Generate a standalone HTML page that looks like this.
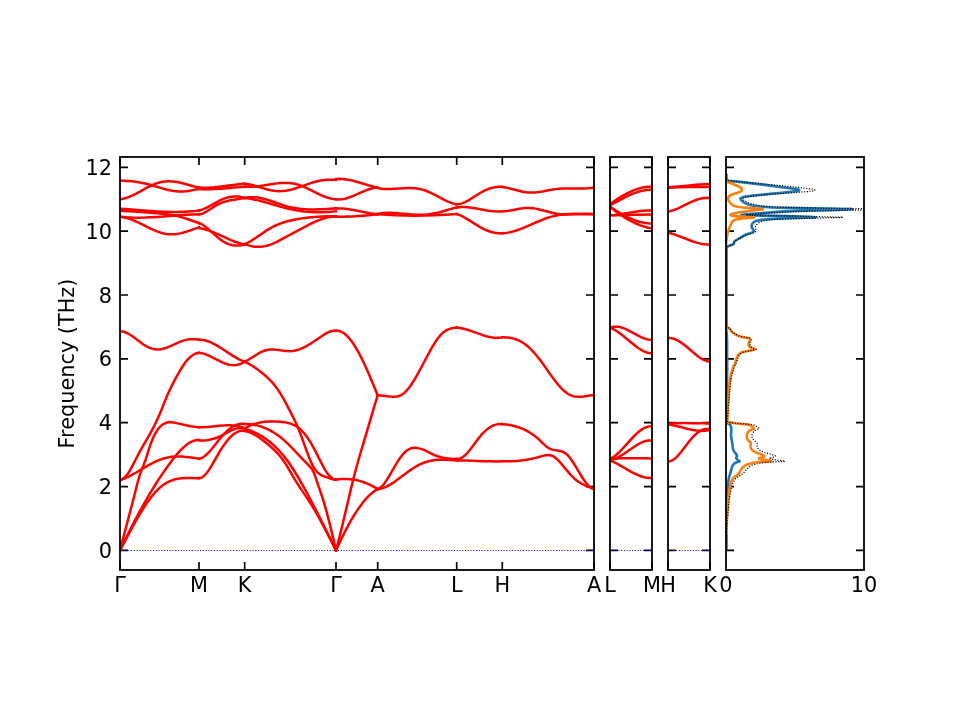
<!DOCTYPE html>
<html lang="en"><head><meta charset="utf-8"><title>Phonon band structure and DOS</title>
<style>html,body{margin:0;padding:0;background:#fff;}body{width:960px;height:720px;overflow:hidden;}svg{display:block;}text{font-family:"DejaVu Sans","Liberation Sans",sans-serif;font-size:20.83px;fill:#000;}</style>
</head><body>
<svg width="960" height="720" viewBox="0 0 960 720">
<rect x="0" y="0" width="960" height="720" fill="#ffffff"/>
<clipPath id="c0"><rect x="120.00" y="157.00" width="474.00" height="413.00"/></clipPath>
<clipPath id="c1"><rect x="610.00" y="157.00" width="42.00" height="413.00"/></clipPath>
<clipPath id="c2"><rect x="668.00" y="157.00" width="42.00" height="413.00"/></clipPath>
<clipPath id="c3"><rect x="726.00" y="157.00" width="138.00" height="413.00"/></clipPath>
<g stroke="#000" stroke-width="1.67" fill="none">
<path d="M120.00 550.40 h8.00 M594.00 550.40 h-8.00"/>
<path d="M120.00 486.55 h8.00 M594.00 486.55 h-8.00"/>
<path d="M120.00 422.70 h8.00 M594.00 422.70 h-8.00"/>
<path d="M120.00 358.85 h8.00 M594.00 358.85 h-8.00"/>
<path d="M120.00 295.00 h8.00 M594.00 295.00 h-8.00"/>
<path d="M120.00 231.15 h8.00 M594.00 231.15 h-8.00"/>
<path d="M120.00 167.30 h8.00 M594.00 167.30 h-8.00"/>
<path d="M610.00 550.40 h8.00 M652.00 550.40 h-8.00"/>
<path d="M610.00 486.55 h8.00 M652.00 486.55 h-8.00"/>
<path d="M610.00 422.70 h8.00 M652.00 422.70 h-8.00"/>
<path d="M610.00 358.85 h8.00 M652.00 358.85 h-8.00"/>
<path d="M610.00 295.00 h8.00 M652.00 295.00 h-8.00"/>
<path d="M610.00 231.15 h8.00 M652.00 231.15 h-8.00"/>
<path d="M610.00 167.30 h8.00 M652.00 167.30 h-8.00"/>
<path d="M668.00 550.40 h8.00 M710.00 550.40 h-8.00"/>
<path d="M668.00 486.55 h8.00 M710.00 486.55 h-8.00"/>
<path d="M668.00 422.70 h8.00 M710.00 422.70 h-8.00"/>
<path d="M668.00 358.85 h8.00 M710.00 358.85 h-8.00"/>
<path d="M668.00 295.00 h8.00 M710.00 295.00 h-8.00"/>
<path d="M668.00 231.15 h8.00 M710.00 231.15 h-8.00"/>
<path d="M668.00 167.30 h8.00 M710.00 167.30 h-8.00"/>
<path d="M726.00 550.40 h8.00 M864.00 550.40 h-8.00"/>
<path d="M726.00 486.55 h8.00 M864.00 486.55 h-8.00"/>
<path d="M726.00 422.70 h8.00 M864.00 422.70 h-8.00"/>
<path d="M726.00 358.85 h8.00 M864.00 358.85 h-8.00"/>
<path d="M726.00 295.00 h8.00 M864.00 295.00 h-8.00"/>
<path d="M726.00 231.15 h8.00 M864.00 231.15 h-8.00"/>
<path d="M726.00 167.30 h8.00 M864.00 167.30 h-8.00"/>
<path d="M120.00 157.00 v8.00 M120.00 570.00 v-8.00"/>
<path d="M199.00 157.00 v8.00 M199.00 570.00 v-8.00"/>
<path d="M244.70 157.00 v8.00 M244.70 570.00 v-8.00"/>
<path d="M336.00 157.00 v8.00 M336.00 570.00 v-8.00"/>
<path d="M377.70 157.00 v8.00 M377.70 570.00 v-8.00"/>
<path d="M456.70 157.00 v8.00 M456.70 570.00 v-8.00"/>
<path d="M502.30 157.00 v8.00 M502.30 570.00 v-8.00"/>
<path d="M594.00 157.00 v8.00 M594.00 570.00 v-8.00"/>
<path d="M610.00 157.00 v8.00 M610.00 570.00 v-8.00"/>
<path d="M652.00 157.00 v8.00 M652.00 570.00 v-8.00"/>
<path d="M668.00 157.00 v8.00 M668.00 570.00 v-8.00"/>
<path d="M710.00 157.00 v8.00 M710.00 570.00 v-8.00"/>
</g>
<g clip-path="url(#c0)" fill="none">
<path d="M120.00 550.50 L594.00 550.50" stroke="#0000ff" stroke-width="1.04" stroke-dasharray="1.04 1.72"/>
<g stroke="#ff0000" stroke-width="2.50" stroke-linejoin="round" stroke-linecap="square">
<path d="M120.00 180.60 L126.85 180.94 L132.09 181.36 L136.93 181.93 L141.36 182.67 L144.99 183.46 L149.02 184.50 L152.65 185.53 L162.32 188.41 L167.16 189.72 L169.58 190.29 L171.99 190.78 L174.01 191.11 L176.03 191.37 L178.44 191.57 L180.86 191.62 L183.28 191.53 L185.70 191.32 L188.12 191.00 L190.94 190.52 L194.16 189.89 L199.00 188.85"/>
<path d="M120.00 199.21 L122.02 198.94 L124.43 198.42 L126.85 197.70 L129.67 196.65 L132.49 195.41 L135.32 194.02 L138.54 192.32 L147.41 187.47 L150.23 186.04 L152.65 184.92 L155.47 183.76 L157.89 182.93 L160.31 182.28 L163.13 181.75 L164.74 181.54 L166.35 181.41 L167.96 181.34 L169.58 181.33 L171.19 181.39 L173.20 181.54 L174.82 181.71 L176.83 182.01 L179.65 182.53 L182.47 183.18 L185.30 183.93 L194.16 186.45 L196.58 187.05 L199.00 187.57"/>
<path d="M120.00 208.83 L128.46 209.37 L146.60 210.71 L154.26 211.23 L162.32 211.65 L169.58 211.89 L173.61 211.94 L177.64 211.93 L181.27 211.86 L184.89 211.72 L188.52 211.52 L192.15 211.24 L195.78 210.88 L199.00 210.48"/>
<path d="M120.00 210.67 L137.33 211.76 L157.48 213.23 L164.74 213.90 L167.56 214.24 L170.38 214.64 L173.20 215.13 L176.03 215.71 L178.44 216.30 L181.27 217.08 L186.51 218.74 L199.00 223.04"/>
<path d="M120.00 216.62 L125.64 217.18 L131.69 217.52 L138.14 217.64 L144.99 217.54 L151.04 217.30 L157.48 216.91 L178.04 215.35 L185.70 214.84 L192.55 214.50 L199.00 214.33"/>
<path d="M120.00 216.62 L122.42 216.93 L124.84 217.43 L127.66 218.21 L130.48 219.18 L133.30 220.30 L136.53 221.74 L140.15 223.49 L149.42 228.12 L152.24 229.44 L155.07 230.67 L158.29 231.91 L161.11 232.81 L163.93 233.52 L166.35 233.94 L167.96 234.13 L169.58 234.25 L171.19 234.30 L173.20 234.26 L174.82 234.16 L176.43 233.99 L178.04 233.76 L180.06 233.39 L182.88 232.72 L186.10 231.77 L188.92 230.83 L195.78 228.40 L199.00 227.35"/>
<path d="M199.00 187.57 L202.64 187.70 L206.28 187.68 L210.32 187.52 L214.37 187.22 L220.84 186.55 L237.02 184.45 L241.06 183.98 L244.70 183.62"/>
<path d="M199.00 189.12 L202.64 189.26 L206.28 189.29 L210.32 189.22 L214.37 189.06 L221.24 188.63 L237.42 187.32 L244.70 186.83"/>
<path d="M199.00 210.48 L200.21 210.18 L201.83 209.67 L203.45 209.07 L205.07 208.38 L207.09 207.42 L209.11 206.37 L216.79 202.09 L220.03 200.41 L222.05 199.47 L223.67 198.80 L225.69 198.08 L227.31 197.59 L229.74 197.01 L231.76 196.68 L234.18 196.46 L236.21 196.44 L238.63 196.61 L240.66 196.92 L242.68 197.39 L244.70 198.02"/>
<path d="M199.00 214.33 L200.21 214.24 L201.43 213.98 L202.64 213.59 L204.26 212.87 L205.47 212.22 L207.09 211.24 L212.75 207.43 L215.58 205.71 L217.20 204.84 L219.22 203.85 L220.84 203.15 L222.86 202.38 L224.48 201.84 L226.50 201.26 L228.52 200.76 L230.55 200.32 L234.18 199.67 L241.46 198.56 L244.70 198.02"/>
<path d="M199.00 223.00 L200.21 223.48 L201.83 224.31 L203.04 225.04 L204.66 226.16 L206.28 227.41 L208.30 229.08 L215.99 235.88 L218.01 237.60 L219.63 238.91 L221.65 240.41 L223.27 241.50 L224.88 242.45 L226.50 243.27 L228.52 244.10 L229.74 244.51 L230.95 244.85 L232.97 245.26 L234.18 245.43 L235.40 245.53 L237.42 245.57 L239.85 245.42 L242.27 245.05 L244.70 244.50"/>
<path d="M199.00 228.00 L201.43 228.44 L203.85 229.01 L206.28 229.71 L209.11 230.66 L211.94 231.73 L215.18 233.07 L218.82 234.67 L228.12 238.90 L230.95 240.12 L233.78 241.26 L236.61 242.31 L239.44 243.22 L242.27 243.99 L244.70 244.50"/>
<path d="M244.70 183.70 L246.31 183.91 L248.32 184.26 L251.94 185.07 L255.56 186.04 L265.61 189.00 L268.43 189.72 L270.84 190.25 L273.66 190.74 L276.07 191.02 L278.49 191.14 L281.30 191.11 L284.12 190.89 L286.93 190.50 L289.75 189.94 L292.56 189.24 L294.98 188.54 L297.79 187.63 L307.85 184.06 L311.47 182.85 L315.09 181.79 L318.71 180.94 L320.72 180.57 L322.73 180.26 L324.74 180.03 L327.15 179.83 L329.16 179.74 L331.58 179.72 L333.59 179.77 L336.00 179.91"/>
<path d="M244.70 186.63 L247.11 186.78 L249.93 186.82 L252.74 186.72 L255.96 186.47 L258.78 186.15 L261.59 185.77 L274.46 183.76 L277.68 183.37 L280.90 183.08 L283.71 182.93 L286.53 182.92 L289.34 183.07 L291.76 183.32 L294.57 183.81 L296.99 184.39 L299.80 185.27 L302.62 186.34 L305.03 187.37 L307.85 188.67 L316.69 193.05 L319.91 194.58 L323.13 196.00 L325.94 197.09 L328.76 198.01 L331.17 198.63 L333.59 199.07 L336.00 199.30"/>
<path d="M244.70 198.00 L246.31 197.65 L248.32 197.34 L249.93 197.19 L251.94 197.13 L253.95 197.18 L255.96 197.33 L257.97 197.59 L259.98 197.94 L263.60 198.76 L267.63 199.90 L271.65 201.21 L281.70 204.68 L284.52 205.58 L287.33 206.39 L290.15 207.10 L293.37 207.78 L296.58 208.33 L299.80 208.75 L303.42 209.09 L307.04 209.31 L310.66 209.42 L314.68 209.43 L318.71 209.34 L323.13 209.16 L336.00 208.40"/>
<path d="M244.70 198.00 L247.52 198.31 L250.73 198.80 L253.95 199.41 L257.17 200.11 L260.79 201.01 L264.41 201.99 L279.29 206.34 L285.72 208.09 L289.34 208.96 L292.56 209.64 L296.18 210.31 L299.80 210.89 L304.23 211.45 L308.65 211.86 L313.07 212.13 L317.90 212.25 L322.33 212.22 L326.75 212.05 L331.17 211.74 L336.00 211.25"/>
<path d="M244.70 244.04 L246.31 243.34 L248.32 242.35 L250.33 241.24 L252.34 240.05 L256.36 237.46 L266.42 230.64 L269.23 228.87 L271.65 227.46 L274.46 225.99 L277.68 224.54 L280.90 223.30 L284.12 222.24 L286.53 221.55 L289.34 220.82 L292.16 220.17 L295.38 219.50 L298.60 218.90 L301.81 218.38 L305.03 217.91 L308.25 217.51 L314.68 216.89 L321.52 216.47 L328.76 216.27 L336.00 216.30"/>
<path d="M244.70 244.04 L247.52 245.08 L250.33 245.87 L253.15 246.43 L254.76 246.64 L256.36 246.77 L259.18 246.81 L260.79 246.73 L262.40 246.57 L265.21 246.11 L266.82 245.73 L268.43 245.29 L270.44 244.62 L272.45 243.83 L274.46 242.95 L276.88 241.78 L280.50 239.90 L289.34 235.08 L306.24 226.07 L311.47 223.43 L316.29 221.22 L319.11 220.06 L321.92 219.03 L324.34 218.25 L326.75 217.59 L329.16 217.05 L331.58 216.65 L333.99 216.39 L336.00 216.30"/>
<path d="M336.00 179.00 L337.62 178.90 L339.24 178.87 L340.86 178.91 L342.48 179.01 L344.10 179.16 L346.12 179.43 L349.77 180.09 L353.00 180.83 L356.65 181.80 L367.58 185.05 L371.22 186.08 L374.46 186.90 L377.70 187.60"/>
<path d="M336.00 199.20 L337.21 199.34 L338.43 199.40 L339.64 199.39 L340.86 199.32 L342.07 199.19 L343.69 198.92 L344.91 198.67 L346.53 198.25 L349.36 197.35 L352.19 196.28 L355.43 194.91 L363.53 191.32 L365.96 190.34 L368.39 189.45 L370.82 188.70 L373.25 188.12 L375.68 187.74 L377.70 187.60"/>
<path d="M336.00 208.50 L338.83 208.45 L342.07 208.55 L345.31 208.81 L348.55 209.20 L351.79 209.70 L355.03 210.27 L365.96 212.44 L370.01 213.19 L374.06 213.84 L377.70 214.30"/>
<path d="M336.00 216.80 L342.07 216.73 L347.74 216.59 L353.00 216.39 L358.27 216.12 L363.53 215.76 L368.39 215.34 L373.25 214.84 L377.70 214.30"/>
<path d="M377.70 188.03 L380.12 188.45 L382.54 188.74 L385.36 188.93 L388.18 188.99 L390.60 188.96 L393.42 188.85 L405.51 188.13 L408.33 188.06 L411.15 188.08 L413.57 188.19 L415.59 188.36 L418.01 188.68 L420.02 189.05 L422.44 189.64 L424.46 190.25 L426.47 190.99 L428.89 192.01 L430.90 192.95 L433.32 194.16 L443.80 199.69 L446.22 200.86 L448.64 201.92 L450.65 202.70 L452.67 203.37 L454.68 203.90 L456.70 204.28"/>
<path d="M377.70 214.03 L380.52 213.49 L383.75 213.08 L386.97 212.86 L390.60 212.81 L393.82 212.90 L397.45 213.12 L410.35 214.32 L415.59 214.68 L418.41 214.77 L420.83 214.78 L423.25 214.71 L426.07 214.52 L428.89 214.23 L431.71 213.84 L434.53 213.35 L437.35 212.75 L439.77 212.17 L442.19 211.52 L451.86 208.64 L454.28 208.02 L456.70 207.53"/>
<path d="M377.70 214.03 L386.57 214.77 L395.84 215.30 L405.11 215.60 L414.78 215.70 L424.86 215.59 L434.93 215.28 L445.41 214.77 L456.70 214.03"/>
<path d="M456.70 204.28 L457.51 204.26 L458.72 204.13 L460.74 203.72 L461.95 203.36 L463.16 202.92 L465.58 201.85 L467.60 200.80 L470.02 199.38 L477.68 194.45 L480.91 192.50 L482.93 191.40 L484.54 190.60 L486.16 189.87 L487.77 189.22 L489.79 188.50 L491.40 188.02 L493.42 187.52 L495.04 187.22 L497.05 186.96 L498.67 186.86 L500.69 186.85 L502.30 186.95"/>
<path d="M456.70 207.53 L459.12 207.23 L461.54 207.08 L464.37 207.08 L467.19 207.24 L470.02 207.53 L473.25 207.99 L476.47 208.54 L485.75 210.25 L488.58 210.70 L491.40 211.07 L494.23 211.33 L497.05 211.46 L499.88 211.41 L502.30 211.22"/>
<path d="M456.70 214.03 L458.31 214.60 L460.33 215.44 L461.95 216.20 L463.96 217.25 L468.00 219.60 L475.67 224.41 L479.30 226.59 L482.93 228.55 L484.95 229.52 L486.56 230.24 L488.58 231.04 L490.60 231.74 L492.62 232.32 L494.63 232.77 L496.65 233.09 L498.67 233.27 L500.69 233.30 L502.30 233.21"/>
<path d="M502.30 186.95 L505.12 187.39 L507.93 187.98 L510.75 188.67 L518.79 190.82 L522.81 191.72 L524.82 192.06 L526.83 192.32 L528.84 192.47 L530.86 192.53 L532.87 192.50 L534.88 192.40 L536.89 192.22 L538.90 191.98 L542.52 191.41 L549.76 190.06 L552.98 189.51 L555.79 189.12 L559.01 188.80 L562.63 188.58 L566.25 188.48 L569.87 188.47 L579.12 188.55 L584.35 188.46 L587.16 188.31 L589.58 188.10 L591.99 187.81 L594.00 187.49"/>
<path d="M502.30 211.22 L503.91 211.22 L505.52 211.15 L508.74 210.81 L511.95 210.28 L519.59 208.82 L523.21 208.27 L524.82 208.11 L526.43 208.01 L529.25 208.00 L531.26 208.13 L533.27 208.34 L535.28 208.63 L537.29 209.00 L541.31 209.92 L549.36 212.08 L552.98 212.96 L556.60 213.67 L559.81 214.08 L563.43 214.33 L567.86 214.39 L571.88 214.30 L581.93 213.89 L586.36 213.83 L590.38 213.95 L594.00 214.25"/>
<path d="M502.30 233.21 L503.91 233.12 L505.52 232.96 L507.13 232.75 L509.14 232.39 L510.75 232.04 L512.76 231.54 L516.38 230.45 L520.00 229.17 L524.02 227.58 L528.04 225.88 L538.10 221.48 L540.91 220.31 L543.73 219.20 L546.94 218.04 L549.76 217.14 L552.57 216.37 L555.39 215.73 L559.01 215.06 L562.63 214.57 L566.65 214.19 L570.67 213.97 L574.69 213.87 L579.52 213.88 L594.00 214.25"/>
<path d="M120.00 331.37 L121.61 331.41 L122.42 331.51 L123.63 331.76 L125.24 332.28 L127.26 333.16 L129.27 334.26 L131.69 335.82 L134.11 337.56 L141.36 343.05 L143.78 344.70 L145.80 345.91 L147.41 346.76 L148.62 347.33 L149.83 347.83 L151.04 348.27 L152.24 348.63 L153.45 348.93 L154.66 349.16 L155.87 349.32 L157.08 349.41 L158.29 349.42 L160.31 349.27 L162.32 348.93 L164.74 348.29 L166.76 347.61 L169.17 346.65 L171.59 345.59 L177.64 342.82 L180.46 341.63 L183.28 340.62 L184.89 340.15 L186.10 339.86 L187.71 339.55 L189.33 339.32 L190.94 339.19 L192.55 339.14 L194.16 339.16 L195.78 339.27 L197.39 339.46 L199.00 339.72"/>
<path d="M120.00 550.40 L123.63 536.34 L132.09 504.21 L137.73 482.00 L138.54 479.04 L139.35 476.31 L140.15 473.84 L140.96 471.60 L144.18 463.51 L145.39 460.22 L146.60 456.55 L149.42 447.56 L150.23 445.18 L151.44 441.89 L152.65 438.91 L153.86 436.24 L155.07 433.86 L156.68 431.11 L157.89 429.34 L158.69 428.29 L159.50 427.35 L160.71 426.11 L161.52 425.40 L162.32 424.77 L163.13 424.23 L163.93 423.76 L164.74 423.36 L165.55 423.04 L167.16 422.57 L168.77 422.33 L169.98 422.27 L171.19 422.30 L172.40 422.40 L173.61 422.57 L176.43 423.11 L186.10 425.31 L190.54 426.20 L192.95 426.60 L194.97 426.87 L196.98 427.08 L199.00 427.20"/>
<path d="M120.00 550.43 L126.85 536.43 L133.30 523.67 L138.94 512.93 L141.77 507.74 L144.59 502.68 L147.41 497.75 L150.23 492.95 L153.05 488.29 L155.87 483.76 L158.69 479.36 L161.52 475.10 L164.34 470.98 L166.76 467.55 L169.58 463.67 L171.99 460.45 L174.41 457.36 L176.83 454.42 L178.85 452.11 L180.86 449.95 L182.88 447.96 L184.89 446.14 L186.91 444.53 L188.52 443.39 L190.54 442.19 L192.15 441.41 L193.36 440.93 L194.16 440.67 L195.78 440.28 L197.39 440.09 L199.00 440.09"/>
<path d="M120.00 550.43 L127.66 535.87 L133.30 525.45 L138.14 516.94 L140.56 512.87 L142.57 509.61 L144.99 505.85 L147.01 502.86 L149.02 500.01 L151.04 497.32 L153.05 494.80 L155.07 492.45 L157.08 490.30 L159.10 488.34 L160.71 486.92 L162.72 485.34 L164.74 483.94 L166.76 482.73 L168.77 481.69 L170.79 480.80 L172.80 480.06 L175.22 479.34 L177.23 478.87 L179.65 478.45 L182.07 478.16 L184.49 477.98 L186.91 477.90 L189.73 477.88 L199.00 478.11"/>
<path d="M120.00 480.30 L122.42 479.44 L124.84 478.44 L127.66 477.14 L130.48 475.70 L135.72 472.78 L147.81 465.65 L151.04 463.87 L153.86 462.42 L156.68 461.09 L159.50 459.91 L161.92 459.04 L164.74 458.19 L167.96 457.44 L169.58 457.14 L171.59 456.84 L174.82 456.55 L176.43 456.47 L178.44 456.46 L182.07 456.60 L185.70 456.92 L188.92 457.30 L199.00 458.62"/>
<path d="M120.00 480.30 L121.61 479.44 L123.22 478.40 L124.03 477.79 L124.84 477.09 L126.05 475.88 L127.26 474.42 L128.46 472.72 L129.67 470.80 L131.29 467.98 L133.30 464.16 L137.33 456.20 L139.35 452.39 L142.17 447.33 L150.23 433.37 L152.65 428.93 L154.66 425.01 L157.08 419.98 L159.50 414.57 L161.52 409.73 L166.35 397.57 L167.96 393.84 L169.58 390.34 L172.40 384.58 L175.62 378.41 L178.44 373.27 L181.27 368.48 L183.68 364.75 L185.70 361.97 L187.71 359.55 L188.92 358.28 L190.13 357.13 L190.94 356.45 L192.15 355.53 L193.36 354.74 L194.57 354.08 L195.37 353.72 L196.58 353.28 L197.79 352.98 L199.00 352.80"/>
<path d="M199.00 339.72 L200.62 339.73 L202.24 339.88 L203.85 340.14 L205.47 340.51 L207.09 340.98 L208.71 341.55 L210.32 342.20 L212.35 343.12 L215.58 344.81 L219.22 346.95 L222.46 349.01 L230.95 354.58 L233.38 356.10 L235.80 357.54 L238.23 358.88 L240.66 360.08 L242.68 360.96 L244.70 361.71"/>
<path d="M199.00 352.82 L200.62 352.99 L202.64 353.38 L204.26 353.83 L206.28 354.54 L208.30 355.38 L210.32 356.32 L218.82 360.72 L222.46 362.45 L224.48 363.27 L226.10 363.84 L228.12 364.43 L229.74 364.79 L231.76 365.08 L233.78 365.18 L235.80 365.08 L237.42 364.84 L239.44 364.31 L241.06 363.71 L242.27 363.15 L243.08 362.71 L244.70 361.71"/>
<path d="M199.00 427.20 L202.64 427.17 L206.68 426.95 L210.32 426.64 L219.22 425.76 L223.27 425.46 L226.91 425.31 L230.14 425.32 L232.57 425.44 L234.59 425.63 L236.61 425.90 L238.63 426.27 L240.25 426.66 L241.87 427.16 L243.49 427.81 L244.70 428.40"/>
<path d="M199.00 458.75 L199.81 458.61 L201.02 458.24 L201.83 457.89 L203.04 457.24 L203.85 456.72 L205.07 455.82 L206.28 454.79 L207.49 453.65 L209.52 451.53 L211.54 449.20 L213.56 446.73 L219.63 439.06 L221.24 437.11 L222.86 435.27 L224.88 433.12 L226.50 431.54 L228.52 429.73 L230.14 428.45 L232.16 427.03 L234.18 425.86 L236.21 424.92 L237.82 424.37 L239.04 424.06 L239.85 423.91 L241.46 423.75 L243.08 423.78 L244.70 424.00"/>
<path d="M199.00 440.40 L200.62 440.49 L202.64 440.50 L204.66 440.40 L206.68 440.19 L208.30 439.95 L210.32 439.56 L212.35 439.06 L214.37 438.46 L217.20 437.47 L220.03 436.30 L223.27 434.74 L228.93 431.67 L231.35 430.44 L233.78 429.40 L234.99 428.97 L236.21 428.63 L237.42 428.36 L238.63 428.19 L239.85 428.11 L240.66 428.11 L241.87 428.21 L242.68 428.34 L243.89 428.63 L244.70 428.90"/>
<path d="M199.00 478.10 L199.81 478.06 L200.62 477.89 L201.43 477.58 L202.64 476.90 L203.45 476.31 L204.66 475.22 L205.88 473.93 L207.09 472.44 L209.11 469.61 L211.13 466.43 L213.15 463.01 L219.22 452.36 L220.84 449.69 L222.46 447.15 L224.48 444.20 L226.50 441.50 L228.52 439.07 L230.14 437.32 L232.16 435.41 L233.78 434.09 L234.99 433.24 L235.80 432.74 L237.42 431.91 L238.63 431.42 L239.44 431.17 L241.06 430.84 L242.27 430.76 L243.08 430.78 L243.89 430.86 L244.70 431.00"/>
<path d="M244.70 361.71 L246.31 360.87 L248.32 359.73 L256.36 354.76 L258.37 353.58 L259.98 352.71 L261.99 351.72 L263.60 351.05 L265.21 350.49 L266.82 350.06 L268.43 349.77 L270.04 349.60 L271.65 349.53 L273.66 349.56 L275.27 349.67 L277.28 349.88 L285.32 350.94 L287.74 351.12 L289.75 351.17 L292.16 351.04 L294.17 350.75 L296.18 350.31 L298.60 349.59 L300.61 348.84 L303.02 347.79 L305.43 346.59 L308.25 345.02 L310.66 343.56 L313.48 341.75 L323.13 335.18 L325.14 333.94 L327.15 332.83 L328.36 332.24 L329.56 331.73 L330.77 331.30 L331.98 330.96 L333.18 330.73 L333.99 330.63 L335.20 330.58 L336.00 330.62"/>
<path d="M244.70 361.80 L247.11 362.93 L249.53 364.21 L251.94 365.63 L254.35 367.19 L256.77 368.86 L259.58 370.94 L262.40 373.16 L265.21 375.52 L267.22 377.33 L269.23 379.27 L271.25 381.36 L272.85 383.16 L274.46 385.09 L276.07 387.16 L277.68 389.38 L279.29 391.77 L280.90 394.32 L282.51 397.03 L284.12 399.87 L286.13 403.57 L290.95 412.93 L294.17 419.35 L295.78 422.70 L297.79 427.24 L299.80 432.26 L301.81 437.62 L307.44 453.11 L309.05 457.28 L310.26 460.21 L311.87 463.78 L313.07 466.15 L314.28 468.20 L315.09 469.41 L315.89 470.49 L317.10 471.89 L317.90 472.69 L318.71 473.41 L319.51 474.03 L320.31 474.58 L321.12 475.06 L322.33 475.68 L323.53 476.19 L324.74 476.63 L331.98 479.00 L333.99 479.50 L335.20 479.66 L336.00 479.70"/>
<path d="M244.70 428.40 L247.11 427.05 L249.93 425.69 L252.74 424.55 L255.56 423.62 L258.37 422.88 L261.59 422.24 L264.81 421.81 L268.03 421.56 L272.05 421.46 L276.47 421.57 L281.70 421.94 L285.32 422.38 L288.14 422.94 L290.55 423.62 L291.76 424.05 L292.96 424.55 L294.17 425.12 L295.38 425.76 L296.99 426.76 L298.60 427.91 L300.20 429.25 L301.81 430.77 L303.02 432.05 L304.63 433.93 L306.24 436.02 L307.85 438.29 L309.05 440.11 L310.66 442.70 L312.27 445.44 L313.88 448.34 L316.29 452.95 L321.52 463.41 L323.53 467.18 L325.54 470.57 L326.75 472.39 L327.55 473.51 L328.76 475.04 L329.97 476.36 L331.17 477.47 L331.98 478.09 L333.18 478.81 L333.99 479.16 L335.20 479.45 L336.00 479.50"/>
<path d="M244.70 424.00 L246.71 424.03 L248.72 424.14 L250.73 424.33 L252.74 424.60 L254.76 424.95 L256.77 425.38 L258.78 425.89 L260.39 426.37 L262.40 427.04 L264.41 427.80 L266.42 428.65 L268.03 429.40 L270.04 430.42 L272.05 431.54 L274.06 432.75 L275.67 433.79 L278.89 436.07 L282.10 438.60 L285.32 441.41 L288.54 444.44 L293.37 449.30 L303.82 460.31 L309.45 466.06 L310.66 467.43 L311.47 468.48 L312.67 470.39 L313.48 471.93 L314.28 473.73 L315.09 475.84 L318.30 485.58 L321.92 496.10 L323.93 502.44 L326.35 510.86 L329.16 521.62 L332.38 534.83 L336.00 550.40"/>
<path d="M244.70 428.90 L247.52 429.69 L250.33 430.64 L253.15 431.75 L255.96 433.02 L258.78 434.48 L261.59 436.11 L264.41 437.92 L266.82 439.63 L269.64 441.80 L272.05 443.82 L274.46 445.99 L276.88 448.34 L279.29 450.86 L281.70 453.56 L284.12 456.46 L286.53 459.56 L288.54 462.30 L290.55 465.20 L292.56 468.23 L294.98 472.03 L297.39 476.01 L299.80 480.13 L302.21 484.38 L305.03 489.48 L308.25 495.46 L311.87 502.33 L319.51 517.15 L327.55 533.17 L336.00 550.40"/>
<path d="M244.70 431.00 L246.31 431.31 L248.32 431.87 L250.33 432.61 L252.34 433.50 L254.35 434.54 L256.77 435.96 L258.78 437.28 L261.19 439.00 L264.01 441.16 L267.22 443.80 L270.84 446.92 L273.66 449.48 L276.07 451.84 L278.08 453.97 L280.09 456.28 L282.10 458.81 L284.52 462.17 L286.53 465.29 L288.54 468.68 L293.37 477.13 L296.58 482.39 L299.80 487.32 L306.24 496.83 L309.05 501.08 L311.87 505.53 L314.68 510.20 L319.11 517.93 L323.93 526.82 L329.56 537.64 L336.00 550.40"/>
<path d="M336.00 330.83 L336.81 330.78 L338.02 330.84 L339.24 331.05 L340.45 331.42 L341.26 331.75 L342.48 332.37 L343.69 333.13 L344.91 334.03 L345.72 334.71 L346.93 335.83 L348.15 337.09 L349.36 338.47 L350.57 339.96 L351.79 341.58 L353.00 343.30 L354.22 345.14 L356.65 349.11 L359.08 353.46 L361.51 358.16 L364.34 364.04 L367.17 370.27 L370.01 376.78 L373.25 384.47 L377.70 395.29"/>
<path d="M336.00 550.40 L338.02 542.74 L340.45 533.08 L343.29 521.31 L350.98 488.65 L353.41 478.81 L355.84 469.52 L358.27 460.71 L361.10 450.89 L367.98 427.78 L374.06 407.11 L377.70 395.20"/>
<path d="M336.00 479.50 L339.24 479.20 L342.07 479.04 L344.91 478.98 L347.34 479.02 L349.77 479.16 L352.19 479.41 L354.62 479.77 L357.05 480.26 L359.48 480.87 L361.91 481.61 L364.34 482.47 L367.17 483.62 L369.60 484.72 L372.44 486.13 L374.87 487.45 L377.70 489.10"/>
<path d="M336.00 550.40 L338.83 544.21 L341.67 538.26 L344.50 532.55 L347.34 527.10 L350.17 521.94 L352.60 517.74 L355.43 513.13 L357.86 509.42 L360.70 505.41 L363.13 502.25 L365.55 499.34 L367.98 496.71 L370.41 494.36 L372.84 492.30 L374.06 491.38 L375.27 490.54 L376.49 489.77 L377.70 489.08"/>
<path d="M377.70 395.29 L380.92 395.53 L387.37 396.32 L390.19 396.59 L393.02 396.70 L394.63 396.66 L395.84 396.58 L397.05 396.42 L398.26 396.17 L399.47 395.80 L400.27 395.49 L401.48 394.89 L402.29 394.40 L403.09 393.83 L404.30 392.86 L405.11 392.12 L406.32 390.90 L407.53 389.54 L408.74 388.05 L409.94 386.45 L411.15 384.74 L413.57 381.03 L415.99 376.99 L418.81 371.97 L421.23 367.47 L428.08 354.49 L431.71 347.95 L433.73 344.55 L435.34 342.00 L437.35 339.06 L438.97 336.93 L440.98 334.59 L442.59 333.01 L443.40 332.32 L444.61 331.41 L445.41 330.88 L446.62 330.18 L447.43 329.78 L448.64 329.26 L449.85 328.84 L451.06 328.49 L453.48 327.99 L456.70 327.58"/>
<path d="M377.70 489.08 L378.51 488.79 L379.31 488.37 L380.12 487.83 L381.33 486.83 L382.13 486.04 L382.94 485.16 L383.75 484.20 L384.96 482.61 L386.57 480.27 L388.58 477.06 L390.60 473.64 L395.03 465.89 L397.45 461.87 L399.87 458.21 L401.88 455.50 L403.09 454.05 L404.30 452.74 L405.51 451.58 L406.32 450.90 L407.12 450.29 L408.33 449.51 L409.14 449.07 L410.35 448.55 L411.15 448.28 L412.36 447.99 L413.17 447.88 L414.38 447.81 L415.18 447.83 L416.39 447.93 L417.60 448.11 L418.81 448.36 L421.63 449.11 L423.25 449.66 L424.46 450.13 L426.87 451.24 L430.90 453.44 L433.32 454.61 L436.14 455.74 L437.76 456.29 L439.37 456.77 L440.98 457.18 L443.00 457.62 L445.01 457.97 L447.03 458.25 L449.04 458.46 L451.46 458.64 L456.70 458.83"/>
<path d="M377.70 489.08 L378.91 488.99 L380.12 488.81 L381.33 488.55 L382.94 488.09 L384.15 487.66 L385.76 486.98 L387.37 486.21 L388.99 485.33 L391.81 483.62 L394.63 481.70 L397.85 479.35 L406.72 472.67 L409.94 470.37 L412.77 468.49 L415.99 466.50 L418.81 464.95 L421.63 463.60 L424.46 462.48 L426.07 461.94 L427.68 461.46 L430.90 460.70 L432.52 460.40 L434.53 460.11 L438.16 459.77 L442.19 459.64 L446.22 459.71 L450.65 459.96 L456.70 460.46"/>
<path d="M456.70 327.58 L458.72 327.78 L461.14 328.16 L463.56 328.69 L465.98 329.33 L468.40 330.07 L470.82 330.88 L479.30 333.94 L482.93 335.19 L486.16 336.17 L489.39 336.98 L491.40 337.37 L493.02 337.60 L494.63 337.77 L496.25 337.85 L497.86 337.85 L499.48 337.75 L501.09 337.55 L502.30 337.33"/>
<path d="M456.70 458.83 L457.51 458.92 L458.72 458.86 L459.52 458.69 L460.74 458.26 L461.95 457.63 L463.16 456.82 L464.37 455.85 L465.58 454.74 L467.60 452.60 L470.02 449.69 L472.03 447.06 L477.68 439.45 L479.30 437.38 L480.91 435.44 L482.93 433.21 L484.54 431.60 L486.16 430.14 L487.77 428.83 L489.79 427.41 L491.40 426.45 L493.42 425.47 L495.04 424.87 L497.05 424.34 L498.67 424.10 L499.88 424.03 L500.69 424.03 L502.30 424.17"/>
<path d="M456.70 460.46 L461.14 460.49 L466.38 460.60 L483.74 461.16 L490.19 461.32 L496.65 461.38 L502.30 461.32"/>
<path d="M502.30 337.33 L504.31 337.34 L505.92 337.40 L507.93 337.56 L509.54 337.76 L511.15 338.04 L512.76 338.39 L514.37 338.82 L515.97 339.34 L517.58 339.96 L519.19 340.67 L520.80 341.49 L522.01 342.18 L523.62 343.19 L524.82 344.03 L526.03 344.93 L527.64 346.25 L530.05 348.44 L532.87 351.31 L535.28 354.02 L538.10 357.45 L540.11 360.05 L542.52 363.33 L549.76 373.60 L552.57 377.50 L555.39 381.23 L558.20 384.71 L561.02 387.87 L563.43 390.27 L564.64 391.35 L565.85 392.33 L567.86 393.77 L569.06 394.49 L569.87 394.90 L571.08 395.44 L572.28 395.87 L573.49 396.21 L574.69 396.46 L575.90 396.62 L577.11 396.72 L579.12 396.75 L581.13 396.64 L583.54 396.39 L589.98 395.53 L591.99 395.36 L594.00 395.29"/>
<path d="M502.30 424.08 L505.52 424.43 L508.33 424.83 L511.15 425.33 L513.96 425.96 L516.78 426.73 L519.19 427.52 L521.61 428.42 L524.02 429.47 L526.83 430.87 L529.25 432.24 L531.66 433.78 L534.07 435.50 L536.49 437.40 L538.50 439.14 L543.73 444.13 L545.74 445.93 L547.35 447.20 L548.95 448.25 L549.76 448.66 L550.56 449.01 L551.37 449.31 L552.57 449.65 L554.59 450.05 L559.01 450.70 L561.02 451.18 L562.23 451.59 L563.43 452.12 L564.64 452.78 L565.44 453.32 L566.25 453.93 L567.05 454.62 L568.26 455.83 L569.87 457.74 L571.48 459.94 L572.68 461.74 L574.29 464.29 L579.92 473.71 L581.93 476.97 L584.35 480.61 L586.36 483.30 L587.56 484.73 L588.37 485.60 L589.58 486.74 L590.38 487.39 L591.59 488.19 L592.39 488.60 L593.20 488.90 L594.00 489.08"/>
<path d="M502.30 461.13 L507.13 461.29 L511.55 461.25 L516.38 461.01 L520.80 460.61 L523.62 460.25 L526.43 459.83 L529.25 459.32 L531.66 458.83 L535.68 457.89 L538.10 457.25 L542.92 455.87 L545.33 455.33 L546.94 455.13 L548.55 455.10 L550.16 455.27 L551.37 455.56 L552.17 455.85 L552.98 456.21 L553.78 456.65 L554.59 457.17 L556.19 458.42 L557.80 459.92 L559.01 461.18 L560.62 462.97 L567.46 471.14 L570.67 474.81 L573.49 477.71 L575.10 479.19 L576.30 480.20 L577.51 481.12 L579.12 482.21 L580.73 483.17 L582.34 484.03 L585.15 485.33 L591.18 487.81 L594.00 489.08"/>
</g></g>
<g clip-path="url(#c1)" fill="none">
<path d="M610.00 550.50 L652.00 550.50" stroke="#0000ff" stroke-width="1.04" stroke-dasharray="1.04 1.72"/>
<g stroke="#ff0000" stroke-width="2.50" stroke-linejoin="round" stroke-linecap="square">
<path d="M610.00 204.10 L613.23 201.84 L616.46 199.67 L619.69 197.61 L622.52 195.91 L625.35 194.32 L627.77 193.04 L630.60 191.68 L633.02 190.62 L635.44 189.67 L637.87 188.83 L640.29 188.13 L642.71 187.55 L645.13 187.11 L647.56 186.83 L649.98 186.69 L652.00 186.70"/>
<path d="M610.00 205.30 L619.69 200.05 L625.35 197.14 L628.17 195.79 L630.60 194.70 L633.02 193.69 L635.04 192.92 L637.46 192.08 L639.48 191.47 L641.90 190.84 L643.92 190.43 L645.94 190.10 L647.96 189.89 L649.98 189.79 L652.00 189.80"/>
<path d="M610.00 206.67 L613.23 208.86 L616.46 210.94 L619.29 212.68 L622.12 214.32 L624.94 215.85 L627.37 217.08 L630.19 218.40 L632.62 219.42 L635.44 220.48 L637.87 221.28 L640.29 221.96 L642.71 222.52 L645.13 222.96 L647.56 223.26 L649.98 223.43 L652.00 223.46"/>
<path d="M610.00 206.67 L612.83 208.95 L615.65 211.14 L618.48 213.23 L621.31 215.21 L624.13 217.08 L626.96 218.83 L629.79 220.46 L632.21 221.75 L635.04 223.14 L637.46 224.21 L639.88 225.19 L642.31 226.05 L644.73 226.80 L647.15 227.43 L649.58 227.94 L652.00 228.33"/>
<path d="M610.00 215.33 L614.04 214.98 L618.48 214.43 L622.92 213.76 L634.23 211.92 L640.29 211.10 L643.52 210.77 L646.35 210.57 L649.17 210.46 L652.00 210.46"/>
<path d="M610.00 215.33 L616.87 215.27 L625.75 215.12 L637.06 214.78 L652.00 214.47"/>
<path d="M610.00 327.88 L611.21 327.40 L612.42 327.05 L613.63 326.81 L615.25 326.65 L616.46 326.64 L618.08 326.77 L619.69 327.04 L621.31 327.45 L622.52 327.83 L624.13 328.42 L626.96 329.67 L630.19 331.32 L636.25 334.67 L638.67 335.95 L641.10 337.13 L643.12 338.00 L645.54 338.85 L646.75 339.18 L647.96 339.45 L649.98 339.72 L651.19 339.77 L652.00 339.75"/>
<path d="M610.00 327.87 L612.02 328.65 L614.04 329.63 L616.46 331.03 L618.88 332.65 L620.90 334.13 L623.33 336.02 L631.81 343.06 L634.63 345.32 L637.87 347.72 L640.69 349.57 L642.31 350.50 L643.92 351.31 L645.54 352.00 L646.75 352.43 L648.37 352.87 L649.58 353.09 L650.79 353.22 L652.00 353.25"/>
<path d="M610.00 458.75 L610.81 458.39 L612.02 457.75 L614.04 456.46 L616.06 454.93 L618.48 452.80 L620.50 450.84 L622.92 448.33 L631.00 439.40 L634.23 435.98 L635.85 434.38 L637.46 432.88 L639.08 431.49 L640.29 430.53 L641.90 429.37 L643.52 428.38 L645.13 427.57 L646.35 427.08 L647.96 426.62 L649.17 426.42 L649.98 426.37 L650.79 426.37 L652.00 426.50"/>
<path d="M610.00 459.38 L610.81 459.33 L612.02 459.18 L613.23 458.95 L614.44 458.62 L615.65 458.22 L616.87 457.75 L618.08 457.21 L619.69 456.40 L622.12 455.01 L624.54 453.48 L626.96 451.83 L633.02 447.58 L636.25 445.44 L639.08 443.76 L640.69 442.91 L641.90 442.34 L643.52 441.68 L644.73 441.27 L645.94 440.93 L647.15 440.68 L648.37 440.51 L649.58 440.45 L650.79 440.48 L652.00 440.63"/>
<path d="M610.00 459.75 L614.44 459.04 L617.67 458.60 L620.50 458.32 L623.33 458.15 L639.88 458.14 L645.13 458.25 L652.00 458.50"/>
<path d="M610.00 460.62 L611.62 461.25 L613.23 461.93 L616.87 463.69 L620.50 465.66 L628.58 470.31 L631.81 472.10 L635.04 473.76 L638.27 475.21 L640.29 476.00 L641.90 476.55 L643.92 477.13 L645.54 477.51 L647.15 477.80 L648.77 478.01 L650.38 478.11 L652.00 478.12"/>
</g></g>
<g clip-path="url(#c2)" fill="none">
<path d="M668.00 550.50 L710.00 550.50" stroke="#0000ff" stroke-width="1.04" stroke-dasharray="1.04 1.72"/>
<g stroke="#ff0000" stroke-width="2.50" stroke-linejoin="round" stroke-linecap="square">
<path d="M668.00 187.17 L675.67 186.69 L684.15 186.04 L687.38 185.73 L695.46 184.85 L699.10 184.52 L704.75 184.16 L710.00 183.92"/>
<path d="M668.00 187.71 L678.50 187.30 L688.60 187.07 L697.48 186.96 L710.00 186.95"/>
<path d="M668.00 211.54 L669.62 211.26 L671.63 210.76 L673.65 210.13 L676.08 209.22 L678.10 208.36 L680.52 207.24 L688.19 203.43 L691.42 201.91 L694.65 200.54 L697.48 199.53 L699.10 199.05 L700.71 198.64 L702.33 198.30 L703.94 198.06 L705.56 197.90 L707.17 197.84 L708.79 197.89 L710.00 198.00"/>
<path d="M668.00 232.67 L669.62 233.03 L671.63 233.56 L673.65 234.16 L675.67 234.83 L679.71 236.31 L687.79 239.51 L691.02 240.74 L694.25 241.88 L697.48 242.86 L700.71 243.65 L702.33 243.95 L703.94 244.19 L705.56 244.35 L707.17 244.43 L708.79 244.43 L710.00 244.37"/>
<path d="M668.00 338.25 L669.21 338.12 L670.42 338.12 L671.63 338.24 L672.85 338.48 L674.06 338.82 L675.27 339.26 L676.48 339.79 L678.10 340.63 L679.31 341.34 L680.92 342.40 L683.75 344.48 L686.58 346.77 L693.04 352.32 L695.46 354.33 L697.88 356.21 L700.31 357.91 L701.92 358.91 L703.13 359.57 L704.35 360.16 L705.56 360.66 L706.77 361.06 L707.98 361.36 L709.19 361.56 L710.00 361.62"/>
<path d="M668.00 423.75 L675.67 423.27 L678.50 423.16 L681.33 423.12 L694.25 423.13 L697.48 423.17 L703.13 423.37 L710.00 423.75"/>
<path d="M668.00 424.38 L670.83 424.81 L674.06 425.44 L677.69 426.28 L685.77 428.34 L689.40 429.21 L693.04 429.96 L696.27 430.47 L698.29 430.69 L699.90 430.81 L701.92 430.88 L703.54 430.86 L705.15 430.76 L706.77 430.59 L708.38 430.34 L710.00 430.00"/>
<path d="M668.00 461.25 L668.81 461.28 L670.02 461.14 L670.83 460.92 L672.04 460.43 L672.85 459.99 L674.06 459.19 L675.27 458.23 L676.48 457.13 L678.50 455.02 L680.52 452.65 L682.94 449.57 L688.19 442.64 L689.81 440.60 L691.42 438.69 L693.04 436.91 L694.65 435.27 L696.27 433.80 L697.88 432.49 L699.50 431.37 L701.12 430.45 L702.73 429.73 L703.94 429.33 L705.56 429.00 L706.37 428.93 L707.17 428.91 L707.98 428.96 L708.79 429.08 L710.00 429.38"/>
</g></g>
<g clip-path="url(#c3)" fill="none" stroke-linejoin="round">
<path d="M726.00 174.00 L726.01 179.55 L726.08 179.70 L726.42 180.00 L727.70 180.60 L729.52 180.90 L737.43 181.65 L762.55 184.65 L787.73 187.95 L797.17 189.30 L798.31 189.60 L799.08 190.05 L799.15 190.20 L799.05 190.35 L798.35 190.65 L797.29 190.95 L795.53 191.25 L784.26 192.45 L752.79 195.60 L746.09 196.50 L744.38 196.80 L743.18 197.10 L741.17 197.85 L740.67 198.15 L740.54 198.30 L740.49 198.60 L740.69 199.20 L741.60 200.55 L742.18 201.15 L742.92 201.75 L744.02 202.50 L745.04 203.10 L747.02 204.00 L749.74 204.90 L751.66 205.35 L754.20 205.80 L759.81 206.55 L764.55 207.00 L771.82 207.45 L788.02 207.90 L847.00 208.95 L852.18 209.10 L852.59 209.25 L834.64 209.85 L792.93 211.05 L784.59 211.35 L779.67 211.65 L768.87 212.55 L755.48 213.45 L743.28 214.65 L741.97 214.80 L741.40 214.95 L742.76 215.10 L750.96 215.40 L787.17 216.15 L813.08 217.05 L815.89 217.20 L815.24 217.35 L801.90 217.80 L771.32 219.00 L768.85 219.15 L765.14 219.45 L761.28 219.90 L758.03 220.50 L755.80 221.10 L755.10 221.40 L754.31 221.85 L753.65 222.30 L752.97 222.90 L752.59 223.35 L752.25 223.95 L751.83 224.85 L751.59 225.60 L751.49 226.50 L751.63 227.10 L751.94 227.70 L753.53 230.25 L753.73 230.70 L753.75 231.15 L753.44 231.60 L752.62 232.20 L751.23 232.95 L750.32 233.25 L747.52 234.00 L745.62 234.75 L743.85 235.65 L739.62 238.05 L735.25 240.75 L734.47 241.35 L734.22 241.65 L734.08 241.95 L733.90 243.75 L733.64 244.05 L732.65 244.50 L729.98 245.40 L727.66 246.45 L727.00 246.90 L726.34 247.65 L726.08 248.10 L726.00 248.55 L726.00 327.15 L726.13 329.25 L726.77 334.50 L727.04 341.25 L727.11 347.40 L727.15 370.20 L726.98 386.25 L726.41 404.55 L726.00 421.50 L726.08 421.80 L726.28 422.10 L727.43 423.15 L728.11 423.60 L729.49 424.35 L730.11 424.80 L730.37 425.25 L730.84 426.45 L731.24 427.95 L731.38 429.30 L731.33 430.65 L731.02 434.10 L731.07 435.90 L731.72 439.80 L732.87 447.90 L733.20 449.55 L733.40 450.15 L733.82 450.90 L735.41 453.15 L736.49 454.50 L736.91 455.25 L737.00 455.70 L736.94 456.15 L736.40 457.35 L736.27 457.80 L736.26 458.10 L736.43 458.55 L736.92 459.15 L738.07 460.20 L739.46 461.10 L739.59 461.25 L739.62 461.40 L739.36 461.55 L737.00 462.15 L735.05 463.05 L734.38 463.50 L733.71 464.10 L733.17 464.70 L732.74 465.30 L732.44 465.90 L732.10 466.80 L731.38 469.50 L729.37 476.10 L728.82 478.35 L728.44 480.30 L728.03 483.90 L727.44 491.40 L727.12 497.55 L726.76 506.85 L726.43 517.35 L726.20 528.15 L726.05 538.95 L726.00 550.35" stroke="#1f77b4" stroke-width="2.60"/>
<path d="M726.00 174.00 L726.00 180.15 L726.18 180.75 L726.73 181.50 L727.14 181.80 L727.79 182.10 L730.83 183.15 L734.31 184.50 L738.38 186.30 L739.43 186.90 L741.05 188.10 L741.63 188.70 L741.84 189.15 L741.80 189.90 L741.54 190.80 L741.31 191.25 L740.91 191.55 L738.39 192.60 L734.30 193.80 L731.20 194.85 L730.56 195.15 L729.91 195.60 L729.20 196.20 L728.81 196.65 L728.50 197.25 L728.17 198.30 L728.11 199.05 L728.24 199.65 L728.66 200.55 L729.46 201.90 L730.19 202.80 L731.22 203.85 L731.89 204.45 L732.71 205.05 L733.48 205.50 L734.44 205.95 L736.47 206.55 L738.75 207.00 L741.34 207.30 L744.77 207.60 L753.41 208.20 L760.72 208.80 L762.82 209.10 L762.87 209.25 L762.27 209.40 L761.19 209.55 L756.90 210.00 L747.56 211.20 L741.12 212.10 L738.34 212.55 L735.44 213.15 L733.10 213.75 L731.02 214.50 L730.49 214.80 L730.40 214.95 L730.46 215.10 L730.66 215.25 L731.80 215.70 L733.98 216.00 L741.21 216.60 L753.78 217.35 L754.12 217.50 L751.55 217.80 L742.13 218.55 L739.29 218.85 L736.77 219.30 L735.58 219.60 L734.80 219.90 L733.94 220.35 L733.08 220.95 L732.46 221.55 L731.90 222.30 L731.39 223.20 L729.03 228.75 L728.52 230.25 L727.88 232.50 L727.21 235.50 L726.70 238.35 L726.43 240.30 L726.20 243.45 L726.02 248.10 L726.01 326.40 L726.19 326.85 L726.56 327.30 L727.26 327.60 L728.78 328.05 L729.47 328.35 L730.06 329.10 L730.83 330.75 L731.17 331.20 L731.75 331.80 L732.65 332.55 L733.91 333.45 L735.78 334.65 L736.86 335.25 L738.97 336.15 L740.55 336.60 L744.37 337.35 L748.42 337.95 L748.96 338.10 L749.46 338.55 L749.82 339.00 L750.03 339.45 L750.12 339.90 L750.11 340.20 L749.95 340.65 L748.92 342.15 L748.66 342.75 L748.63 343.35 L748.71 344.40 L748.88 345.45 L749.08 346.20 L749.44 346.65 L750.01 347.10 L751.82 348.15 L752.50 348.45 L754.52 349.05 L754.85 349.20 L755.00 349.35 L754.90 349.50 L754.02 349.80 L749.50 350.70 L745.30 351.45 L742.79 352.05 L740.94 352.65 L739.79 353.40 L739.09 354.00 L738.54 354.60 L738.00 355.35 L737.48 356.25 L736.80 357.90 L734.86 363.75 L734.57 364.35 L733.57 365.85 L733.27 366.45 L732.97 367.50 L732.41 370.05 L732.20 370.65 L731.44 372.30 L730.91 374.40 L730.25 378.00 L729.60 383.10 L729.01 389.70 L728.15 403.35 L727.67 408.60 L727.63 409.95 L727.85 410.70 L727.85 411.15 L727.42 416.70 L727.42 421.35 L727.77 421.80 L728.50 422.25 L729.35 422.55 L730.18 422.70 L734.75 423.30 L746.20 424.35 L748.34 424.65 L749.72 425.10 L750.69 425.55 L751.58 426.15 L753.00 427.35 L753.43 427.80 L753.74 428.25 L753.88 428.70 L753.82 428.85 L753.05 429.15 L750.78 429.75 L749.80 430.35 L748.91 431.10 L748.16 432.00 L747.69 432.90 L747.08 434.40 L746.78 435.75 L746.77 436.65 L746.97 437.70 L747.32 438.75 L747.93 440.10 L748.49 440.70 L750.42 442.20 L750.69 442.50 L750.85 442.80 L750.84 443.70 L750.56 445.80 L750.50 446.85 L750.62 447.45 L750.94 448.20 L751.63 449.25 L752.35 450.15 L753.26 450.90 L754.69 451.80 L755.80 452.40 L756.50 452.70 L760.12 453.90 L762.66 454.95 L763.63 455.40 L764.26 455.85 L764.38 456.15 L764.21 456.45 L763.81 456.75 L763.25 457.05 L762.22 457.50 L759.36 458.10 L758.89 458.25 L758.76 458.40 L758.88 458.55 L759.16 458.70 L760.10 459.00 L764.11 459.90 L769.60 460.80 L771.01 461.10 L771.39 461.25 L771.33 461.40 L762.76 461.70 L758.87 462.00 L756.27 462.30 L753.57 462.75 L751.60 463.20 L747.99 464.25 L745.98 465.00 L745.13 465.45 L744.05 466.20 L743.20 466.95 L742.38 467.85 L741.42 469.20 L739.17 473.10 L738.36 474.15 L737.64 474.75 L735.70 476.10 L733.59 477.75 L732.88 478.50 L732.15 479.70 L731.61 480.90 L730.95 482.70 L730.47 484.35 L730.13 485.85 L728.92 493.65 L728.25 499.80 L727.63 510.00 L727.00 518.40 L726.51 527.55 L726.13 538.80 L726.00 550.35" stroke="#ff7f0e" stroke-width="2.60"/>
<path d="M726.00 174.00 L726.01 179.55 L726.22 179.85 L726.99 180.30 L727.81 180.60 L728.58 180.75 L731.33 181.05 L771.23 184.65 L788.92 186.45 L803.90 188.10 L812.11 189.15 L813.73 189.45 L814.45 189.75 L814.85 190.05 L814.89 190.20 L814.75 190.35 L813.38 190.80 L811.96 191.10 L809.44 191.40 L795.14 192.60 L770.95 194.40 L759.96 195.30 L752.53 196.05 L749.01 196.50 L746.33 196.95 L743.84 197.70 L743.13 198.00 L742.71 198.30 L742.62 198.60 L742.73 199.05 L743.05 199.50 L743.70 200.10 L744.47 200.70 L745.69 201.45 L746.90 202.05 L748.31 202.65 L749.94 203.25 L751.86 203.85 L755.50 204.75 L757.90 205.20 L761.05 205.65 L768.40 206.40 L777.30 207.00 L788.83 207.45 L810.97 207.90 L883.05 208.95 L889.00 209.10 L889.46 209.25 L873.29 209.70 L815.61 211.05 L805.07 211.35 L794.97 211.80 L763.66 213.45 L747.99 214.65 L746.46 214.80 L745.80 214.95 L747.22 215.10 L755.92 215.40 L796.78 216.15 L841.24 217.20 L843.03 217.35 L839.65 217.50 L788.30 218.85 L780.36 219.15 L775.26 219.45 L770.08 219.90 L765.73 220.50 L762.71 221.10 L761.70 221.40 L760.53 221.85 L759.55 222.30 L758.51 222.90 L757.91 223.35 L757.44 223.80 L756.63 224.70 L755.94 225.60 L755.51 226.35 L755.34 226.95 L755.42 227.85 L756.10 230.55 L756.10 230.85 L756.00 231.15 L755.56 231.60 L754.58 232.20 L752.99 232.95 L748.54 234.15 L746.63 234.90 L742.64 236.85 L739.83 238.35 L735.88 240.60 L734.79 241.35 L734.51 241.65 L734.35 241.95 L734.08 243.75 L733.80 244.05 L732.80 244.50 L730.08 245.40 L727.73 246.45 L727.23 246.75 L726.90 247.05 L726.37 247.65 L726.10 248.10 L726.02 248.40 L726.00 249.90 L726.00 326.25 L726.04 326.55 L726.42 327.15 L726.56 327.30 L726.85 327.45 L728.82 328.05 L729.53 328.35 L730.18 329.10 L731.15 330.75 L731.55 331.20 L732.22 331.80 L733.22 332.55 L734.59 333.45 L736.56 334.65 L737.98 335.40 L739.82 336.15 L741.42 336.60 L745.27 337.35 L749.35 337.95 L749.90 338.10 L750.42 338.55 L750.79 339.00 L751.02 339.45 L751.13 340.05 L750.97 340.65 L749.98 342.15 L749.73 342.75 L749.72 343.35 L749.81 344.40 L749.98 345.45 L750.18 346.20 L750.55 346.65 L751.12 347.10 L752.93 348.15 L753.62 348.45 L755.64 349.05 L755.97 349.20 L756.12 349.35 L756.02 349.50 L755.14 349.80 L750.62 350.70 L746.42 351.45 L743.92 352.05 L742.07 352.65 L740.92 353.40 L740.22 354.00 L739.67 354.60 L739.13 355.35 L738.62 356.25 L737.94 357.90 L736.01 363.75 L735.72 364.35 L734.72 365.85 L734.42 366.45 L734.15 367.35 L733.52 370.20 L732.59 372.30 L732.07 374.25 L731.43 377.55 L730.72 382.35 L729.72 391.35 L728.59 403.35 L727.98 408.60 L727.90 409.95 L728.10 410.70 L728.09 411.15 L727.51 416.85 L727.42 421.35 L727.62 421.65 L728.50 422.10 L729.38 422.40 L731.09 422.70 L736.37 423.30 L749.69 424.35 L752.28 424.65 L753.54 424.95 L755.19 425.55 L756.32 426.15 L757.69 427.05 L758.48 427.65 L758.92 428.10 L759.18 428.55 L759.22 428.70 L759.17 428.85 L758.42 429.15 L756.15 429.75 L755.15 430.35 L754.04 431.25 L753.25 432.15 L752.41 433.65 L751.95 434.85 L751.83 435.90 L751.93 436.65 L752.24 437.55 L752.78 438.60 L753.70 440.10 L754.34 440.70 L756.49 442.20 L756.79 442.50 L756.99 442.80 L757.12 443.70 L757.15 445.95 L757.23 446.85 L757.49 447.60 L758.09 448.50 L759.05 449.55 L759.75 450.15 L760.77 450.75 L762.42 451.50 L765.59 452.70 L770.66 454.05 L772.99 454.80 L774.24 455.25 L775.10 455.70 L775.33 456.00 L775.32 456.15 L775.04 456.45 L774.50 456.75 L772.56 457.50 L769.62 458.10 L769.18 458.25 L769.10 458.40 L769.30 458.55 L770.88 459.00 L775.85 459.90 L783.64 460.95 L784.98 461.25 L784.95 461.40 L779.63 461.55 L772.78 461.85 L768.46 462.15 L765.54 462.45 L762.17 462.90 L758.88 463.50 L754.96 464.40 L752.50 465.15 L751.47 465.60 L750.62 466.05 L749.67 466.65 L748.87 467.25 L747.43 468.60 L743.74 472.80 L742.70 473.85 L741.67 474.60 L739.06 476.10 L736.54 477.75 L735.66 478.50 L734.59 479.85 L733.81 481.20 L732.97 483.00 L732.36 484.65 L731.83 486.45 L730.85 490.65 L730.23 493.65 L729.66 497.10 L729.20 500.40 L727.50 517.35 L726.75 527.10 L726.43 532.80 L726.19 538.65 L726.05 544.50 L726.00 550.35" stroke="#000000" stroke-width="1.25" stroke-dasharray="1.10 1.60"/>
<path d="M727.45 174.00 V179.85 M727.45 247.80 V327.00 M727.45 534.60 V550.35" stroke="#000" stroke-opacity="0.38" stroke-width="0.9"/>
</g>
<rect x="120.00" y="157.00" width="474.00" height="413.00" fill="none" stroke="#000" stroke-width="1.80" stroke-linejoin="miter"/>
<rect x="610.00" y="157.00" width="42.00" height="413.00" fill="none" stroke="#000" stroke-width="1.80" stroke-linejoin="miter"/>
<rect x="668.00" y="157.00" width="42.00" height="413.00" fill="none" stroke="#000" stroke-width="1.80" stroke-linejoin="miter"/>
<rect x="726.00" y="157.00" width="138.00" height="413.00" fill="none" stroke="#000" stroke-width="1.80" stroke-linejoin="miter"/>
<text x="112.1" y="558.00" text-anchor="end">0</text>
<text x="112.1" y="494.15" text-anchor="end">2</text>
<text x="112.1" y="430.30" text-anchor="end">4</text>
<text x="112.1" y="366.45" text-anchor="end">6</text>
<text x="112.1" y="302.60" text-anchor="end">8</text>
<text x="112.1" y="238.75" text-anchor="end">10</text>
<text x="112.1" y="174.90" text-anchor="end">12</text>
<text x="120.00" y="591.7" text-anchor="middle">Γ</text>
<text x="199.00" y="591.7" text-anchor="middle">M</text>
<text x="244.70" y="591.7" text-anchor="middle">K</text>
<text x="336.00" y="591.7" text-anchor="middle">Γ</text>
<text x="377.70" y="591.7" text-anchor="middle">A</text>
<text x="456.70" y="591.7" text-anchor="middle">L</text>
<text x="502.30" y="591.7" text-anchor="middle">H</text>
<text x="594.00" y="591.7" text-anchor="middle">A</text>
<text x="610.00" y="591.7" text-anchor="middle">L</text>
<text x="652.00" y="591.7" text-anchor="middle">M</text>
<text x="668.00" y="591.7" text-anchor="middle">H</text>
<text x="710.00" y="591.7" text-anchor="middle">K</text>
<text x="726.00" y="591.7" text-anchor="middle">0</text>
<text x="864.00" y="591.7" text-anchor="middle">10</text>
<text transform="translate(73.8 363.5) rotate(-90)" text-anchor="middle">Frequency (THz)</text>
</svg></body></html>
